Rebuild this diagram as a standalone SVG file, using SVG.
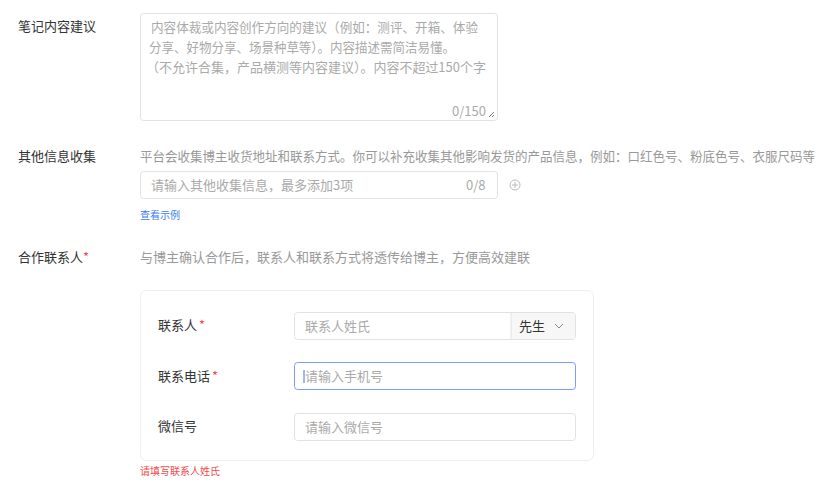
<svg xmlns="http://www.w3.org/2000/svg" width="832" height="488" viewBox="0 0 832 488">
<style>
text{font-family:"Noto Sans CJK SC","Liberation Sans",sans-serif;font-size:13px}
.lb{fill:#333}
.ph{fill:#aaa}
.hint{fill:#999}
.star{fill:#f04b4b}
.box{fill:#fff;stroke:#e2e2e2;stroke-width:1}
</style>
<rect width="832" height="488" fill="#fff"/>
<g id="note">
<text class="lb" x="18" y="31">笔记内容建议</text>
<rect class="box" x="140.5" y="13.5" width="357" height="107" rx="3"/>
<text class="ph" x="151" y="32" textLength="327" lengthAdjust="spacingAndGlyphs">内容体裁或内容创作方向的建议（例如：测评、开箱、体验</text>
<text class="ph" x="149" y="52" textLength="306" lengthAdjust="spacingAndGlyphs">分享、好物分享、场景种草等）。内容描述需简洁易懂。</text>
<text class="ph" x="146" y="72" textLength="340" lengthAdjust="spacingAndGlyphs">（不允许合集，产品横测等内容建议）。内容不超过150个字</text>
<text class="ph" x="452" y="116">0/150</text>
<path d="M489 117l5-5M492 117l2-2" stroke="#777" stroke-width="1"/>
</g>
<g id="other">
<text class="lb" x="18" y="161">其他信息收集</text>
<text class="hint" x="140" y="161" textLength="675" lengthAdjust="spacingAndGlyphs">平台会收集博主收货地址和联系方式。你可以补充收集其他影响发货的产品信息，例如：口红色号、粉底色号、衣服尺码等</text>
<rect class="box" x="140.5" y="171.5" width="357" height="27" rx="3"/>
<text class="ph" x="151" y="190">请输入其他收集信息，最多添加3项</text>
<text class="ph" x="466" y="190">0/8</text>
<circle cx="515" cy="185" r="5" fill="none" stroke="#bbb"/>
<path d="M512 185h6M515 182v6" stroke="#bbb"/>
<text x="140" y="219" fill="#3d7bf7" style="font-size:10px">查看示例</text>
</g>
<g id="contact">
<text class="lb" x="18" y="262">合作联系人</text><text class="star" x="83" y="262">*</text>
<text class="hint" x="140" y="262">与博主确认合作后，联系人和联系方式将透传给博主，方便高效建联</text>
<rect x="140.5" y="290.5" width="453" height="170" rx="6" fill="#fff" stroke="#eee"/>
<text class="lb" x="158" y="330">联系人</text><text class="star" x="199" y="330">*</text>
<rect class="box" x="294.5" y="312.5" width="281" height="27" rx="3"/>
<rect x="511" y="313" width="64" height="26" fill="#f7f7f7"/>
<line x1="511" y1="313" x2="511" y2="339" stroke="#e2e2e2"/>
<text class="ph" x="305" y="331">联系人姓氏</text>
<text class="lb" x="519" y="331">先生</text>
<path d="M555 324l4 4 4-4" fill="none" stroke="#888"/>
<text class="lb" x="158" y="381">联系电话</text><text class="star" x="212" y="381">*</text>
<rect x="294.5" y="362.5" width="281" height="27" rx="3" fill="#fff" stroke="#7d9bf7"/>
<line x1="304" y1="370" x2="304" y2="383" stroke="#4a6cf0"/>
<text class="ph" x="305" y="381">请输入手机号</text>
<text class="lb" x="158" y="431">微信号</text>
<rect class="box" x="294.5" y="413.5" width="281" height="27" rx="3"/>
<text class="ph" x="305" y="432">请输入微信号</text>
<text x="140" y="475" fill="#f04b4b" style="font-size:10px">请填写联系人姓氏</text>
</g>
</svg>
